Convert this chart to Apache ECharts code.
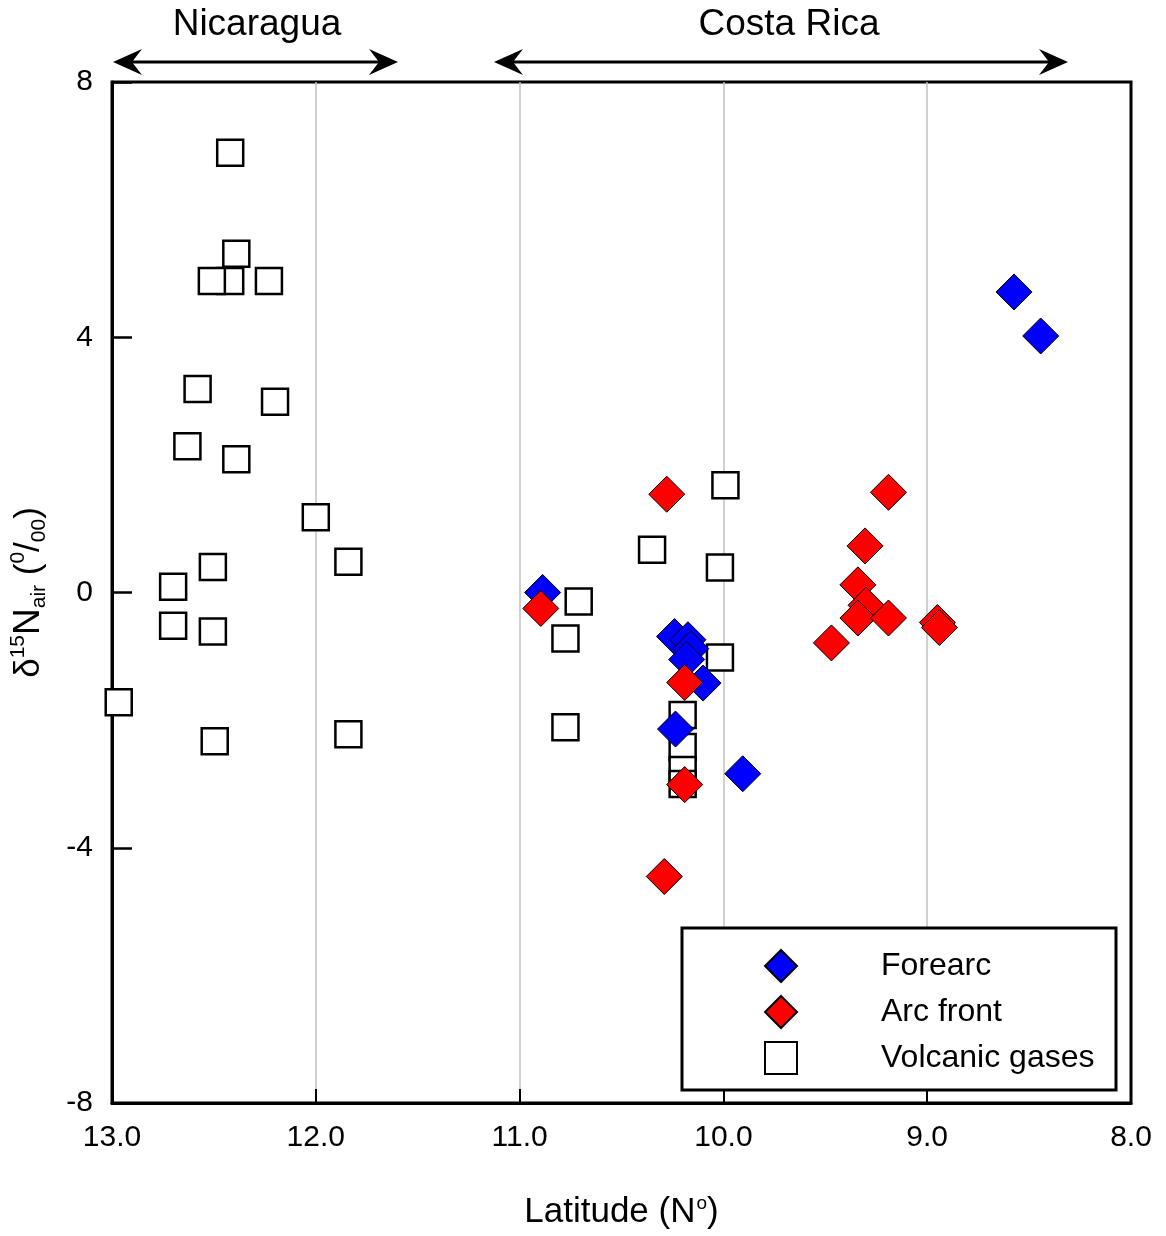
<!DOCTYPE html>
<html>
<head>
<meta charset="utf-8">
<script src="https://cdn.jsdelivr.net/npm/echarts@6/dist/echarts.min.js"></script>
<style>
html,body{margin:0;padding:0;background:#fff;}
#chart{width:1166px;height:1236px;}
</style>
</head>
<body>
<div id="chart"></div>
<script>
// Latitude (°N), δ15N (‰)
const volcanicGases = [
  [12.42, 6.89], [12.39, 5.31], [12.42, 4.88], [12.51, 4.88], [12.23, 4.88],
  [12.58, 3.19], [12.20, 2.99], [12.63, 2.29], [12.39, 2.09], [12.00, 1.18],
  [12.505, 0.40], [12.70, 0.09], [11.84, 0.48], [12.70, -0.52], [12.505, -0.61],
  [12.967, -1.72], [12.496, -2.33], [11.84, -2.22],
  [10.71, -0.14], [10.775, -0.72], [10.775, -2.11], [9.99, 1.68], [10.35, 0.67],
  [10.017, 0.39], [10.017, -1.02], [10.20, -1.92], [10.20, -2.42], [10.20, -2.78], [10.20, -3.00]
];
const forearc = [
  [10.887, 0.00], [8.574, 4.71], [8.443, 4.02], [9.905, -2.84], [10.235, -2.14],
  [10.24, -0.69], [10.174, -0.74], [10.16, -0.88], [10.18, -1.05], [10.10, -1.42]
];
const arcFront = [
  [10.278, 1.54], [10.19, -1.41], [10.19, -3.01], [10.896, -0.25], [10.29, -4.45],
  [9.19, 1.57], [9.305, 0.73], [9.34, 0.12], [9.30, -0.20], [9.34, -0.40],
  [9.19, -0.40], [9.47, -0.79], [8.95, -0.47], [8.94, -0.55]
];
const seriesNames = ['Forearc', 'Arc front', 'Volcanic gases'];
const regionLabels = ['Nicaragua', 'Costa Rica'];
const xTicks = {min: 8, max: 13, interval: 1};
const yTicks = {min: -8, max: 8, interval: 4};

const FONT = 'Liberation Sans';
const chart = echarts.init(document.getElementById('chart'), null, {renderer: 'canvas'});

function arrowHead(tipX, y, dir) {
  // dir = 1 points left, -1 points right
  return [[tipX, y], [tipX + dir * 29, y - 13], [tipX + dir * 19, y], [tipX + dir * 29, y + 13]];
}

const GRIDC = '#c0c0c0', NONE = 'rgba(0,0,0,0)';

chart.setOption({
  animation: false,
  backgroundColor: '#fff',
  grid: {left: 112, right: 35, top: 82, bottom: 133, show: true, borderColor: '#000', borderWidth: 3, backgroundColor: 'transparent'},
  xAxis: {
    type: 'value', inverse: true, min: xTicks.min, max: xTicks.max, interval: xTicks.interval,
    axisLine: {show: true, onZero: false, lineStyle: {color: '#000', width: 3}},
    axisTick: {show: true, inside: true, length: 14, lineStyle: {color: '#000', width: 2}},
    splitLine: {show: true, lineStyle: {color: [NONE, GRIDC, GRIDC, GRIDC, GRIDC, NONE], width: 1.5}},
    axisLabel: {fontFamily: FONT, fontSize: 30, color: '#000', margin: 20, formatter: v => v.toFixed(1)},
    name: '{b|Latitude (N}{s|o}{b|)}',
    nameLocation: 'middle', nameGap: 87,
    nameTextStyle: {rich: {
      b: {fontFamily: FONT, fontSize: 35, color: '#000', lineHeight: 40, verticalAlign: 'bottom'},
      s: {fontFamily: FONT, fontSize: 19, color: '#000', lineHeight: 40, verticalAlign: 'top', padding: [4, 0, 0, 1]}
    }}
  },
  yAxis: {
    type: 'value', min: yTicks.min, max: yTicks.max, interval: yTicks.interval,
    axisLine: {show: true, onZero: false, lineStyle: {color: '#000', width: 3}},
    axisTick: {show: true, inside: true, length: 20, lineStyle: {color: '#000', width: 2.5}},
    splitLine: {show: false},
    axisLabel: {fontFamily: FONT, fontSize: 30, color: '#000', margin: 19},
    name: '{b|δ}{sup|15}{n|N}{sub|air}{b| (}{sup|0}{b|/}{sub|00}{b|)}',
    nameLocation: 'middle', nameRotate: 90, nameGap: 62,
    nameTextStyle: {rich: {
      b: {fontFamily: FONT, fontSize: 35, color: '#000', lineHeight: 42, verticalAlign: 'middle'},
      n: {fontFamily: FONT, fontSize: 37, color: '#000', lineHeight: 42, verticalAlign: 'middle'},
      sup: {fontFamily: FONT, fontSize: 21, color: '#000', lineHeight: 42, verticalAlign: 'top', padding: [0, 0, 12, 0]},
      sub: {fontFamily: FONT, fontSize: 21, color: '#000', lineHeight: 42, verticalAlign: 'bottom', padding: [10, 0, 0, 0]}
    }}
  },
  legend: {
    show: true, orient: 'vertical', left: 759, top: 944, z: 20,
    data: seriesNames, itemWidth: 32, itemHeight: 32, itemGap: 12,
    textStyle: {fontFamily: FONT, fontSize: 32, color: '#000', lineHeight: 32, padding: [0, 0, 0, 79]}
  },
  graphic: [
    {type: 'rect', z: 15, shape: {x: 682, y: 928, width: 434, height: 162}, style: {fill: '#fff', stroke: '#000', lineWidth: 3}},
    {type: 'text', z: 15, style: {x: 257, y: 25, text: regionLabels[0], fontFamily: FONT, fontSize: 37, fill: '#000', textAlign: 'center', textVerticalAlign: 'middle'}},
    {type: 'text', z: 15, style: {x: 789, y: 25, text: regionLabels[1], fontFamily: FONT, fontSize: 37, fill: '#000', textAlign: 'center', textVerticalAlign: 'middle'}},
    {type: 'line', z: 15, shape: {x1: 120, y1: 62, x2: 390, y2: 62}, style: {stroke: '#000', lineWidth: 3}},
    {type: 'polygon', z: 15, shape: {points: arrowHead(113, 62, 1)}, style: {fill: '#000'}},
    {type: 'polygon', z: 15, shape: {points: arrowHead(398, 62, -1)}, style: {fill: '#000'}},
    {type: 'line', z: 15, shape: {x1: 500, y1: 62, x2: 1060, y2: 62}, style: {stroke: '#000', lineWidth: 3}},
    {type: 'polygon', z: 15, shape: {points: arrowHead(494, 62, 1)}, style: {fill: '#000'}},
    {type: 'polygon', z: 15, shape: {points: arrowHead(1068, 62, -1)}, style: {fill: '#000'}}
  ],
  series: [
    {name: seriesNames[2], type: 'scatter', data: volcanicGases, symbol: 'rect', symbolSize: 26, z: 2,
     itemStyle: {color: '#fff', borderColor: '#000', borderWidth: 2.5, opacity: 1}},
    {name: seriesNames[0], type: 'scatter', data: forearc, symbol: 'diamond', symbolSize: 36, z: 3,
     itemStyle: {color: '#0000ff', borderColor: '#000', borderWidth: 1, opacity: 1}},
    {name: seriesNames[1], type: 'scatter', data: arcFront, symbol: 'diamond', symbolSize: 36, z: 4,
     itemStyle: {color: '#ff0000', borderColor: '#000', borderWidth: 1, opacity: 1}}
  ]
});
</script>
</body>
</html>
